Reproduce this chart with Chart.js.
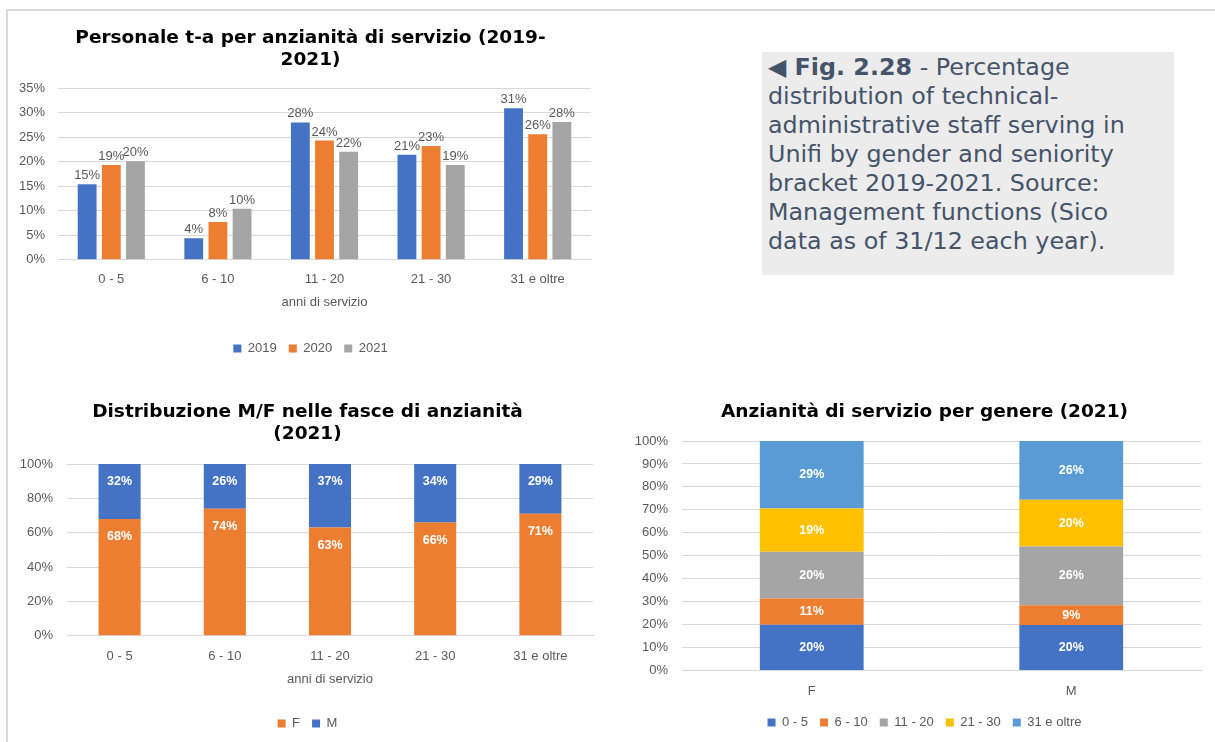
<!DOCTYPE html>
<html>
<head>
<meta charset="utf-8">
<script src="https://cdn.jsdelivr.net/npm/chart.js@4.4.1/dist/chart.umd.min.js"></script>
<style>
  html, body { margin: 0; padding: 0; background: #fff; }
  body { width: 1215px; height: 742px; position: relative; overflow: hidden; }
  .frameTop { position: absolute; left: 7px; top: 9px; width: 1208px; height: 2px; background: #d9d9d9; }
  .frameLeft { position: absolute; left: 6px; top: 9px; width: 2px; height: 733px; background: #d9d9d9; }
  .box { position: absolute; }
  .note { position: absolute; left: 762px; top: 52px; width: 412px; height: 223px; background: #ececec;
          box-sizing: border-box; padding: 1px 6px; font-family: "DejaVu Sans", Verdana, sans-serif;
          font-size: 23.8px; line-height: 29px; color: #44546a; white-space: nowrap; overflow: hidden; }
  .note b { font-weight: bold; }
</style>
</head>
<body>
<div class="frameTop"></div>
<div class="frameLeft"></div>
<div class="note"><b>&#9664; Fig. 2.28</b> - Percentage<br>distribution of technical-<br>administrative staff serving in<br>Unifi by gender and seniority<br>bracket 2019-2021. Source:<br>Management functions (Sico<br>data as of 31/12 each year).</div>
<div class="box" style="left:10px;top:14px;width:590px;height:356px;"><canvas id="c1"></canvas></div>
<div class="box" style="left:10px;top:390px;width:592px;height:356px;"><canvas id="c2"></canvas></div>
<div class="box" style="left:612px;top:390px;width:600px;height:356px;"><canvas id="c3"></canvas></div>
<script>
// ---------- DATA ----------
const categories = ["0 - 5", "6 - 10", "11 - 20", "21 - 30", "31 e oltre"];
const years = ["2019", "2020", "2021"];
const values2019 = [15.4, 4.4, 28.0, 21.4, 30.9];
const values2020 = [19.3, 7.7, 24.3, 23.2, 25.6];
const values2021 = [20.1, 10.4, 22.0, 19.3, 28.1];
const yTicks1 = [0, 5, 10, 15, 20, 25, 30, 35];

const genderSeries = ["F", "M"];
const femaleShare = [68, 74, 63, 66, 71];
const maleShare = [32, 26, 37, 34, 29];

const genders = ["F", "M"];
const share0_5 = [19.9, 19.8];
const share6_10 = [11.4, 8.6];
const share11_20 = [20.4, 25.6];
const share21_30 = [18.9, 20.4];
const share31plus = [29.4, 25.6];

// ---------- STYLE ----------
const BLUE = "#4472c4", ORANGE = "#ed7d31", GRAY = "#a5a5a5", YELLOW = "#ffc000", LBLUE = "#5b9bd5";
const TXT = "#595959", GRID = "#d9d9d9";
const TICKFONT = { family: "'Liberation Sans', Arial, sans-serif", size: 13 };
const TITLEFONT = { family: "'DejaVu Sans', Verdana, sans-serif", size: 18.5, weight: "bold", lineHeight: 1.19 };

const shiftPlugin = {
  id: "shift",
  afterLayout(chart, args, opts) {
    const dx = (opts && opts.dx) || 0;
    if (chart.titleBlock) { chart.titleBlock.left += dx; chart.titleBlock.right += dx; }
    if (chart.legend) { chart.legend.left += dx; chart.legend.right += dx; }
  }
};

function labelPlugin(mode) {
  return {
    id: "lbl_" + mode,
    afterDatasetsDraw(chart) {
      const ctx = chart.ctx;
      ctx.save();
      ctx.textAlign = "center";
      chart.data.datasets.forEach((ds, i) => {
        const meta = chart.getDatasetMeta(i);
        meta.data.forEach((el, j) => {
          const v = ds.data[j];
          const t = Math.round(v) + "%";
          if (mode === "above") {
            ctx.font = "13px 'Liberation Sans', Arial, sans-serif";
            ctx.fillStyle = TXT;
            ctx.textBaseline = "bottom";
            ctx.fillText(t, el.x, el.y - 2);
          } else if (mode === "insideEnd") {
            ctx.font = "bold 12.5px 'Liberation Sans', Arial, sans-serif";
            ctx.fillStyle = "#ffffff";
            ctx.textBaseline = "middle";
            ctx.fillText(t, el.x, el.y + 18);
          } else {
            ctx.font = "bold 12.5px 'Liberation Sans', Arial, sans-serif";
            ctx.fillStyle = "#ffffff";
            ctx.textBaseline = "middle";
            ctx.fillText(t, el.x, (el.y + el.base) / 2);
          }
        });
      });
      ctx.restore();
    }
  };
}

function baseOptions(titleLines, maxY, step, yWidth, xTitle, titlePad, xTitlePad, rightPad, dx, yPad, bottomPad) {
  return {
    responsive: true,
    maintainAspectRatio: false,
    animation: false,
    layout: { padding: { left: 0, right: rightPad, top: 0, bottom: bottomPad } },
    plugins: {
      shift: { dx: dx },
      title: { display: true, text: titleLines, color: "#000", font: TITLEFONT, padding: titlePad },
      legend: {
        position: "bottom",
        labels: { boxWidth: 8, boxHeight: 8, color: TXT, font: TICKFONT, padding: 12 }
      },
      tooltip: { enabled: false }
    },
    scales: {
      x: {
        grid: { display: false },
        border: { display: true, color: GRID },
        ticks: { color: TXT, font: TICKFONT, padding: 6 },
        title: xTitle ? { display: true, text: xTitle, color: TXT, font: TICKFONT, padding: xTitlePad } : { display: false }
      },
      y: {
        min: 0, max: maxY,
        grid: { color: GRID, drawTicks: false },
        border: { display: false },
        ticks: { stepSize: step, color: TXT, font: TICKFONT, padding: yPad, callback: v => v + "%" },
        afterFit(s) { s.width = yWidth; }
      }
    }
  };
}

// Chart 1
const opt1 = baseOptions(["Personale t-a per anzianità di servizio (2019-", "2021)"], 35, 5, 48, "anni di servizio",
  { top: 13, bottom: 17 }, { top: 3, bottom: 20 }, 9, 10, 13, 5);
opt1.scales.x.ticks.padding = 4;
opt1.scales.y.afterBuildTicks = (s) => { s.ticks = yTicks1.map(v => ({ value: v })); };
new Chart(document.getElementById("c1"), {
  type: "bar",
  data: {
    labels: categories,
    datasets: [
      { label: years[0], data: values2019, backgroundColor: BLUE, categoryPercentage: 0.68, barPercentage: 0.78 },
      { label: years[1], data: values2020, backgroundColor: ORANGE, categoryPercentage: 0.68, barPercentage: 0.78 },
      { label: years[2], data: values2021, backgroundColor: GRAY, categoryPercentage: 0.68, barPercentage: 0.78 }
    ]
  },
  options: opt1,
  plugins: [labelPlugin("above"), shiftPlugin]
});

// Chart 2
const opt2 = baseOptions(["Distribuzione M/F nelle fasce di anzianità", "(2021)"], 100, 20, 57, "anni di servizio",
  { top: 11, bottom: 19 }, { top: 2, bottom: 18 }, 9, 6, 14, 6);
opt2.scales.x.ticks.padding = 5;
opt2.scales.x.stacked = true; opt2.scales.y.stacked = true;
new Chart(document.getElementById("c2"), {
  type: "bar",
  data: {
    labels: categories,
    datasets: [
      { label: genderSeries[0], data: femaleShare, backgroundColor: ORANGE, categoryPercentage: 0.5, barPercentage: 0.8 },
      { label: genderSeries[1], data: maleShare, backgroundColor: BLUE, categoryPercentage: 0.5, barPercentage: 0.8 }
    ]
  },
  options: opt2,
  plugins: [labelPlugin("insideEnd"), shiftPlugin]
});

// Chart 3
const opt3 = baseOptions(["Anzianità di servizio per genere (2021)"], 100, 10, 70, null,
  { top: 11, bottom: 18 }, null, 11, 18, 14, 7);
opt3.scales.x.stacked = true; opt3.scales.y.stacked = true;
opt3.scales.x.ticks.padding = 5;
new Chart(document.getElementById("c3"), {
  type: "bar",
  data: {
    labels: genders,
    datasets: [
      { label: categories[0], data: share0_5, backgroundColor: BLUE, categoryPercentage: 0.5, barPercentage: 0.8 },
      { label: categories[1], data: share6_10, backgroundColor: ORANGE, categoryPercentage: 0.5, barPercentage: 0.8 },
      { label: categories[2], data: share11_20, backgroundColor: GRAY, categoryPercentage: 0.5, barPercentage: 0.8 },
      { label: categories[3], data: share21_30, backgroundColor: YELLOW, categoryPercentage: 0.5, barPercentage: 0.8 },
      { label: categories[4], data: share31plus, backgroundColor: LBLUE, categoryPercentage: 0.5, barPercentage: 0.8 }
    ]
  },
  options: opt3,
  plugins: [labelPlugin("center"), shiftPlugin]
});
</script>
</body>
</html>
